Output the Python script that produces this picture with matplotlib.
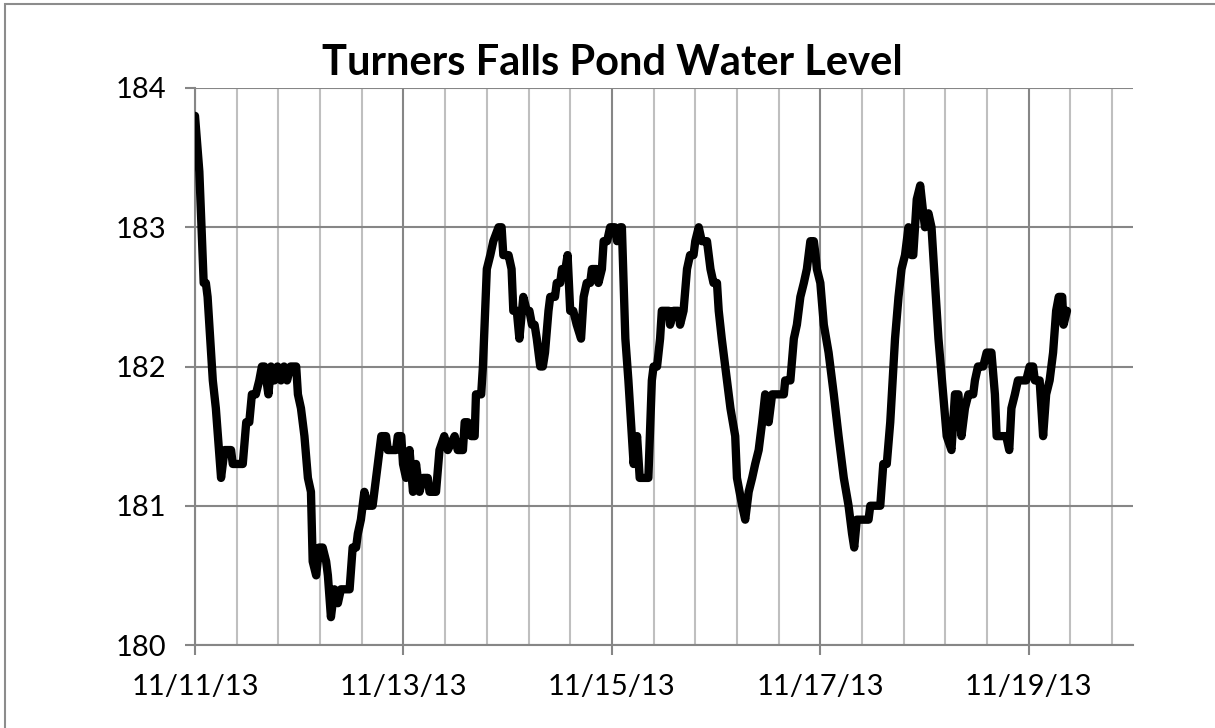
import matplotlib
matplotlib.use("Agg")
import matplotlib.pyplot as plt
import matplotlib.dates as mdates
from matplotlib.ticker import FixedLocator, MultipleLocator
from matplotlib.patches import Rectangle
import pandas as pd

# ---------------- data ----------------
title = "Turners Falls Pond Water Level"
start_date = "2013-11-11"
end_date = "2013-11-20"
tick_labels = ["11/11/13", "11/13/13", "11/15/13", "11/17/13", "11/19/13"]
y_ticks = [180, 181, 182, 183, 184]

# hours after 11/11/13 00:00
hours = [
    0.0, 1.0, 2.0, 2.5, 2.9, 4.1, 4.8, 6.0, 6.8, 8.3,
    8.7, 11.0, 11.8, 12.5, 13.1, 14.0, 14.8, 15.4, 16.0, 16.9,
    17.5, 18.3, 19.0, 19.8, 20.5, 21.2, 22.0, 22.9, 23.3, 23.7,
    24.4, 25.2, 26.0, 26.7, 27.1, 27.9, 28.6, 29.4, 30.2, 30.6,
    31.3, 32.1, 32.9, 33.6, 35.6, 36.3, 37.1, 37.5, 38.2, 39.0,
    39.8, 40.9, 41.3, 42.1, 42.9, 44.0, 44.4, 46.3, 46.7, 47.5,
    47.9, 48.6, 49.4, 50.2, 50.9, 51.7, 52.5, 53.6, 54.0, 55.5,
    56.3, 57.4, 58.2, 59.8, 60.5, 61.7, 62.1, 62.8, 63.6, 64.4,
    64.7, 65.9, 66.3, 67.2, 68.0, 68.7, 69.9, 70.6, 71.0, 72.2,
    72.9, 73.3, 74.1, 74.7, 75.6, 76.4, 77.0, 77.6, 78.2, 78.7,
    79.5, 80.1, 80.6, 81.4, 81.8, 82.9, 83.3, 84.1, 84.5, 85.3,
    85.8, 86.4, 87.1, 87.9, 88.9, 89.5, 90.2, 91.0, 91.4, 92.5,
    92.9, 93.7, 94.1, 94.9, 95.6, 96.7, 97.2, 97.9, 98.3, 98.7,
    99.1, 99.8, 101.0, 101.8, 102.4, 104.4, 105.2, 105.6, 106.4, 107.1,
    107.5, 109.1, 109.4, 110.2, 111.3, 111.7, 112.5, 113.3, 114.0, 114.8,
    115.2, 116.0, 116.7, 117.9, 118.7, 119.4, 120.2, 120.6, 121.3, 122.5,
    123.3, 124.4, 124.8, 126.0, 126.7, 127.5, 128.3, 129.0, 129.8, 130.6,
    131.3, 132.1, 132.9, 135.6, 135.9, 137.1, 137.9, 138.6, 139.4, 140.2,
    140.9, 141.7, 142.5, 142.9, 143.2, 144.0, 144.8, 145.9, 147.1, 148.2,
    149.4, 150.5, 151.3, 151.8, 152.4, 153.2, 155.1, 155.5, 157.8, 158.5,
    159.3, 160.1, 161.2, 162.0, 162.7, 163.5, 164.3, 165.0, 165.4, 166.2,
    167.0, 167.7, 168.1, 168.9, 169.6, 170.4, 171.2, 172.3, 173.1, 174.2,
    175.0, 175.8, 176.5, 177.3, 178.1, 179.2, 179.6, 180.3, 181.5, 182.3,
    183.4, 184.2, 184.6, 186.8, 187.5, 188.0, 188.8, 189.5, 191.4, 192.2,
    193.0, 193.4, 194.5, 195.3, 196.0, 196.8, 197.6, 198.3, 198.9, 199.7,
    200.0, 200.8,
]

# water level (ft)
level = [
    183.8, 183.4, 182.6, 182.6, 182.5, 181.9, 181.7, 181.2, 181.4, 181.4,
    181.3, 181.3, 181.6, 181.6, 181.8, 181.8, 181.9, 182.0, 182.0, 181.8,
    182.0, 181.9, 182.0, 181.9, 182.0, 181.9, 182.0, 182.0, 182.0, 181.8,
    181.7, 181.5, 181.2, 181.1, 180.6, 180.5, 180.7, 180.7, 180.6, 180.5,
    180.2, 180.4, 180.3, 180.4, 180.4, 180.7, 180.7, 180.8, 180.9, 181.1,
    181.0, 181.0, 181.1, 181.3, 181.5, 181.5, 181.4, 181.4, 181.5, 181.5,
    181.3, 181.2, 181.4, 181.1, 181.3, 181.1, 181.2, 181.2, 181.1, 181.1,
    181.4, 181.5, 181.4, 181.5, 181.4, 181.4, 181.6, 181.6, 181.5, 181.5,
    181.8, 181.8, 182.0, 182.7, 182.8, 182.9, 183.0, 183.0, 182.8, 182.8,
    182.7, 182.4, 182.4, 182.2, 182.5, 182.4, 182.4, 182.3, 182.3, 182.2,
    182.0, 182.0, 182.1, 182.4, 182.5, 182.5, 182.6, 182.6, 182.7, 182.7,
    182.8, 182.4, 182.4, 182.3, 182.2, 182.5, 182.6, 182.6, 182.7, 182.7,
    182.6, 182.7, 182.9, 182.9, 183.0, 183.0, 182.9, 183.0, 183.0, 182.6,
    182.2, 181.9, 181.3, 181.5, 181.2, 181.2, 181.9, 182.0, 182.0, 182.2,
    182.4, 182.4, 182.3, 182.4, 182.4, 182.3, 182.4, 182.7, 182.8, 182.8,
    182.9, 183.0, 182.9, 182.9, 182.7, 182.6, 182.6, 182.4, 182.2, 181.9,
    181.7, 181.5, 181.2, 181.0, 180.9, 181.1, 181.2, 181.3, 181.4, 181.6,
    181.8, 181.6, 181.8, 181.8, 181.9, 181.9, 182.2, 182.3, 182.5, 182.6,
    182.7, 182.9, 182.9, 182.8, 182.7, 182.6, 182.3, 182.1, 181.8, 181.5,
    181.2, 181.0, 180.8, 180.7, 180.9, 180.9, 180.9, 181.0, 181.0, 181.3,
    181.3, 181.6, 182.2, 182.5, 182.7, 182.8, 183.0, 182.8, 182.8, 183.2,
    183.3, 183.1, 183.0, 183.1, 183.0, 182.6, 182.2, 181.8, 181.5, 181.4,
    181.8, 181.8, 181.5, 181.7, 181.8, 181.8, 181.9, 182.0, 182.0, 182.1,
    182.1, 181.8, 181.5, 181.5, 181.4, 181.7, 181.8, 181.9, 181.9, 182.0,
    182.0, 181.9, 181.9, 181.5, 181.8, 181.9, 182.1, 182.4, 182.5, 182.5,
    182.3, 182.4,
]

# ---------------- plot ----------------
plt.rcParams["font.family"] = ["Lato", "DejaVu Sans"]

W, H, DPI = 1215, 728, 100
fig = plt.figure(figsize=(W / DPI, H / DPI), dpi=DPI)
fig.patch.set_facecolor("white")

ax = fig.add_axes([195 / W, 1 - 645 / H, (1133 - 195) / W, (645 - 88) / H])

t0 = pd.Timestamp(start_date)
times = [t0 + pd.Timedelta(hours=h) for h in hours]

grid_major = "#868686"
grid_minor = "#bfbfbf"

ax.plot(times, level, color="black", lw=6.0,
        solid_joinstyle="round", solid_capstyle="round", zorder=3)

ax.set_xlim(mdates.date2num(pd.Timestamp(start_date)),
            mdates.date2num(pd.Timestamp(end_date)))
ax.set_ylim(y_ticks[0], y_ticks[-1])

major_pos = [mdates.date2num(pd.to_datetime(s, format="%m/%d/%y")) for s in tick_labels]
ax.xaxis.set_major_locator(FixedLocator(major_pos))
ax.set_xticklabels(tick_labels)
ax.xaxis.set_minor_locator(MultipleLocator(0.4))
ax.set_yticks(y_ticks)
ax.set_yticklabels([str(v) for v in y_ticks])

ax.grid(True, which="minor", axis="x", color=grid_minor, lw=1.5, zorder=0)
ax.grid(True, which="major", axis="x", color=grid_major, lw=1.5, zorder=0)
ax.grid(True, which="major", axis="y", color=grid_major, lw=1.5, zorder=0)
ax.set_axisbelow(True)

for side in ["top", "right"]:
    ax.spines[side].set_visible(False)
for side in ["left", "bottom"]:
    ax.spines[side].set_color(grid_major)
    ax.spines[side].set_linewidth(1.5)

ax.tick_params(axis="both", which="major", length=7, width=1.5, color=grid_major,
               labelsize=21, labelcolor="black")
ax.tick_params(axis="x", which="minor", length=0)
ax.tick_params(axis="x", which="major", pad=14)
ax.tick_params(axis="y", which="major", pad=14)

fig.text(612 / W, 1 - 75 / H, title, ha="center", va="baseline",
         fontsize=30, fontweight="bold", color="black")

# outer chart border
fig.add_artist(Rectangle((5 / W, -0.05), 1.2, 1.05 - 4 / H, transform=fig.transFigure,
                         fill=False, edgecolor="#8c8c8c", lw=1.5, clip_on=False))

fig.savefig("out.png", dpi=DPI, facecolor="white")
